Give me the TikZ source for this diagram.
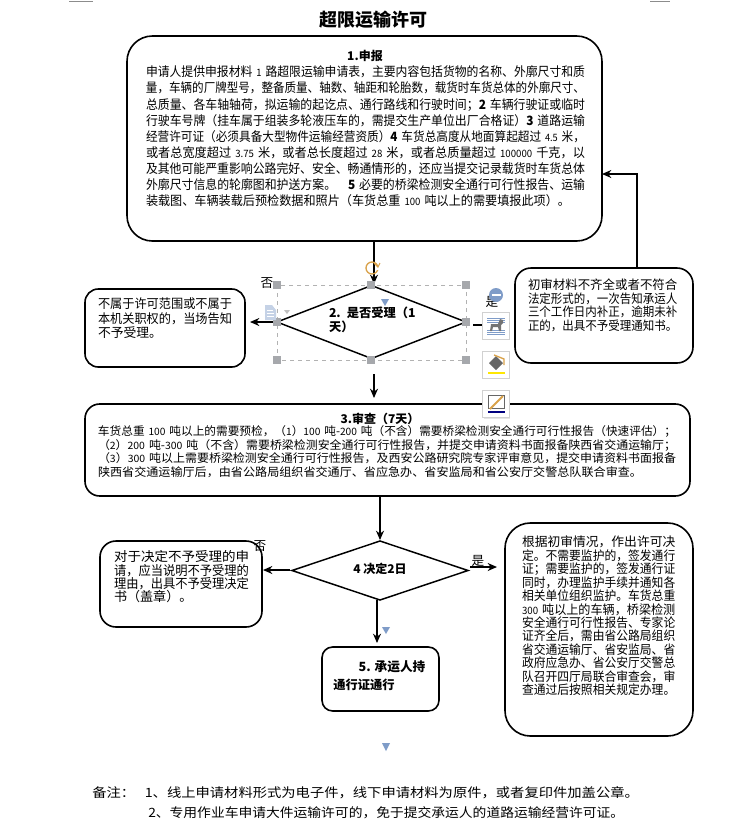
\documentclass[tikz,border=0pt]{standalone}
\usepackage{fontspec}
\usepackage{graphicx}
\setmainfont{Noto Sans CJK SC}
\usetikzlibrary{arrows.meta,shapes.geometric}
\newcommand\jl[2]{\hbox{\resizebox{#1}{\height}{#2}}}
\newcommand\dg[1]{{\fontsize{7.6}{7.6}\selectfont #1}}
\newcommand\fs[2]{\fontsize{#1}{#2}\selectfont}
\definecolor{tri}{HTML}{7F9CC8}
\definecolor{handlegrey}{HTML}{A6A8AC}
\definecolor{rot}{HTML}{D9A24A}
\tikzset{
  x=0.75pt,y=-0.75pt,
  rbox/.style={draw=black,line width=1.2pt,fill=white,inner sep=0pt,outer sep=0pt},
  decision/.style={draw=black,line width=1.1pt,diamond,aspect=2.2,fill=white,inner sep=0pt,outer sep=0pt},
  txt/.style={inner sep=0pt,outer sep=0pt,anchor=north west,align=left},
  bt/.style={inner sep=0pt,outer sep=0pt,font=\bfseries\fs{9}{11}},
  flow/.style={draw=black,line width=1.1pt,-{Stealth[length=7pt,width=6pt]}},
  plain/.style={draw=black,line width=1.1pt},
  handle/.style={fill=handlegrey,draw=none,minimum size=6pt,inner sep=0pt,outer sep=0pt},
  toolbtn/.style={draw=black!18,fill=white,minimum width=20pt,minimum height=20pt,inner sep=0pt,outer sep=0pt},
  toolshadow/.style={fill=black!10,draw=none,minimum width=20pt,minimum height=20pt,inner sep=0pt,outer sep=0pt},
}
\begin{document}
\begin{tikzpicture}
\useasboundingbox (0,0) rectangle (732,840);
\fill[white] (0,0) rectangle (732,840);

% title
\node[inner sep=0pt,font=\bfseries\fs{13.5}{16}] (title) at (373,20) {超限运输许可};

% box 1
\node[rbox,rounded corners=19pt,minimum width=475*0.75pt,minimum height=205*0.75pt] (b1) at (364.5,138.5) {};
\node[bt] (t1h) at (365,56) {1.申报};
\node[txt,text width=329.25pt,font=\fs{9.6}{12.07}] (t1) at (146,66) {%
\jl{329.25pt}{申请人提供申报材料 \dg{1} 路超限运输申请表，主要内容包括货物的名称、外廓尺寸和质}
\jl{329.25pt}{量，车辆的厂牌型号，整备质量、轴数、轴距和轮胎数，载货时车货总体的外廓尺寸、}
\jl{329.25pt}{总质量、各车轴轴荷，拟运输的起讫点、通行路线和行驶时间；\textbf{2} 车辆行驶证或临时}
\jl{329.25pt}{行驶车号牌（挂车属于组装多轮液压车的，需提交生产单位出厂合格证）\textbf{3} 道路运输}
\jl{329.25pt}{经营许可证（必须具备大型物件运输经营资质）\textbf{4} 车货总高度从地面算起超过 \dg{4.5} 米，}
\jl{329.25pt}{或者总宽度超过 \dg{3.75} 米，或者总长度超过 \dg{28} 米，或者总质量超过 \dg{100000} 千克，以}
\jl{329.25pt}{及其他可能严重影响公路完好、安全、畅通情形的，还应当提交记录载货时车货总体}
\jl{329.25pt}{外廓尺寸信息的轮廓图和护送方案。\ \ \ \textbf{5} 必要的桥梁检测安全通行可行性报告、运输}
\jl{318pt}{装载图、车辆装载后预检数据和照片（车货总重 \dg{100} 吨以上的需要填报此项）。}};

% decision 1 selection frame
\draw[black!30,dashed,line width=0.4pt] (277,285) rectangle (466,360);

% box not in scope
\node[rbox,rounded corners=10pt,minimum width=160*0.75pt,minimum height=78*0.75pt] (b2) at (165,328) {};
\node[txt,text width=100.5pt,font=\fs{9.6}{10.9}] (t2) at (98,298) {%
\jl{100.5pt}{不属于许可范围或不属于}
\jl{100.5pt}{本机关职权的，当场告知}
\hbox{不予受理。}};

% box supplement
\node[rbox,rounded corners=12pt,minimum width=178*0.75pt,minimum height=95*0.75pt] (b3) at (604,315.5) {};
\node[txt,text width=112pt,font=\fs{9.4}{10.2}] (t3) at (528,279) {%
\jl{112pt}{初审材料不齐全或者不符合}
\jl{112pt}{法定形式的，一次告知承运人}
\jl{112pt}{三个工作日内补正，逾期未补}
\jl{112pt}{正的，出具不予受理通知书。}};

% decision 1
\node[decision,minimum width=189*0.75pt,minimum height=73*0.75pt] (d1) at (371.5,322) {};
\node[txt,font=\bfseries\fs{9.2}{10.4},text width=100pt] (d1t) at (329,307) {2. 是否受理（1\\天）};

% box review
\node[rbox,rounded corners=11pt,minimum width=605*0.75pt,minimum height=92*0.75pt] (b4) at (387.5,450) {};
\node[bt] (t4h) at (380,419) {3.审查（7天）};
\node[txt,text width=433.5pt,font=\fs{8.7}{10.05}] (t4) at (98,426) {%
\jl{433.5pt}{车货总重 \dg{100} 吨以上的需要预检，（\dg{1}）\dg{100} 吨-\dg{200} 吨（不含）需要桥梁检测安全通行可行性报告（快速评估）；}
\jl{433.5pt}{（\dg{2}）\dg{200} 吨-\dg{300} 吨（不含）需要桥梁检测安全通行可行性报告，并提交申请资料书面报备陕西省交通运输厅；}
\jl{433.5pt}{（\dg{3}）\dg{300} 吨以上需要桥梁检测安全通行可行性报告，及西安公路研究院专家评审意见，提交申请资料书面报备}
\jl{408pt}{陕西省交通运输厅后，由省公路局组织省交通厅、省应急办、省安监局和省公安厅交警总队联合审查。}};

% decision 2
\node[decision,minimum width=176*0.75pt,minimum height=59*0.75pt] (d2) at (380,570.5) {};
\node[bt] (d2t) at (380,569) {4 决定2日};

% box refuse
\node[rbox,rounded corners=12pt,minimum width=162*0.75pt,minimum height=86*0.75pt] (b5) at (181,584) {};
\node[txt,text width=101.25pt,font=\fs{9.8}{10.1}] (t5) at (114,550.5) {%
\jl{101.25pt}{对于决定不予受理的申}
\jl{101.25pt}{请，应当说明不予受理的}
\jl{101.25pt}{理由，出具不予受理决定}
\hbox{书（盖章）。}};

% box grant
\node[rbox,rounded corners=19pt,minimum width=188*0.75pt,minimum height=213*0.75pt] (b6) at (599,629.5) {};
\node[txt,text width=115pt,font=\fs{9.5}{10.09}] (t6) at (522,536) {%
\jl{115pt}{根据初审情况，作出许可决}
\jl{115pt}{定。不需要监护的，签发通行}
\jl{115pt}{证；需要监护的，签发通行证}
\jl{115pt}{同时，办理监护手续并通知各}
\jl{115pt}{相关单位组织监护。车货总重}
\jl{115pt}{\dg{300} 吨以上的车辆，桥梁检测}
\jl{115pt}{安全通行可行性报告、专家论}
\jl{115pt}{证齐全后，需由省公路局组织}
\jl{115pt}{省交通运输厅、省安监局、省}
\jl{115pt}{政府应急办、省公安厅交警总}
\jl{115pt}{队召开四厅局联合审查会，审}
\jl{115pt}{查通过后按照相关规定办理。}};

% box pass
\node[rbox,rounded corners=8pt,minimum width=117*0.75pt,minimum height=64*0.75pt] (b7) at (380.5,679) {};
\node[bt,font=\bfseries\fs{9.5}{11}] (t7a) at (392,667) {5. 承运人持};
\node[bt,font=\bfseries\fs{9.2}{11}] (t7b) at (364,685) {通行证通行};

% labels
\node[inner sep=0pt,font=\fs{9.5}{11}] (no1) at (267,283) {否};
\node[inner sep=0pt,font=\fs{9.5}{11}] (yes1) at (492,302) {是};
\node[inner sep=0pt,font=\fs{9.5}{11}] (no2) at (260,546) {否};
\node[inner sep=0pt,font=\fs{9.5}{11}] (yes2) at (478,561) {是};

% connectors
\coordinate (j1) at (637,174);
\coordinate (j1b) at (637,268);
\coordinate (a1s) at (374,241);
\coordinate (a1e) at (374,284);
\coordinate (a2s) at (374,374);
\coordinate (a2e) at (374,398);
\coordinate (a3s) at (380,496);
\coordinate (a3e) at (380,540);
\coordinate (a4s) at (377,600);
\coordinate (a4e) at (377,643);
\coordinate (a5s) at (290,570);
\coordinate (a5e) at (263,570);
\coordinate (a6s) at (470,567);
\coordinate (a6e) at (497,567);
\coordinate (a7s) at (277,322);
\coordinate (a7e) at (250,322);
\draw[flow] (j1b) -- (j1) -- (b1.east |- j1);
\draw[flow] (a1s) -- (a1e);
\draw[flow] (a2s) -- (a2e);
\draw[flow] (a3s) -- (a3e);
\draw[flow] (a4s) -- (a4e);
\draw[flow] (a5s) -- (a5e);
\draw[flow] (a6s) -- (a6e);
\draw[flow] (a7s) -- (a7e);

% selection handles
\foreach \n/\hx/\hy in {h1/277/285,h2/371/285,h3/466/285,h4/277/322,h5/466/322,h6/277/360,h7/371/360,h8/466/360}
  \node[handle] (\n) at (\hx,\hy) {};

% toolbar
\draw[plain] (h5.east |- 0,325) -- (483,325);
\fill[white] (466,322) ++(4,-4) rectangle ++(3,8);
\node[toolshadow] at (497,327) {};
\node[toolshadow] at (497,366) {};
\node[toolshadow] at (497,405.5) {};
\node[toolbtn] (tb1) at (496,326) {};
\node[toolbtn] (tb2) at (496,365) {};
\node[toolbtn] (tb3) at (496,404) {};
% button icons
\draw[tri,line width=0.5pt] (487,318) -- (505,318) (487,320) -- (505,320) (487,322) -- (505,322) (487,330) -- (505,330) (487,332) -- (505,332) (487,334) -- (505,334);
\fill[black!55] (490,331) -- (491,324) -- (498,324) -- (500,319) -- (503,320) -- (503,323) -- (501,325) -- (501,331) -- (499,331) -- (498,327) -- (493,327) -- (492,331) -- cycle;
\fill[black!60] (489,363) -- (496,356) -- (503,363) -- (496,370) -- cycle;
\draw[rot,line width=1pt] (494,355) -- (504,359) -- (504,365);
\draw[yellow!90!orange,line width=1.2pt] (488,373) -- (505,373);
\draw[black!60,line width=0.6pt] (488,395) rectangle (504,408);
\draw[rot,line width=1.4pt] (490,409) -- (503,396);
\draw[blue!50!black,line width=1.4pt] (488,412) -- (505,412);

% rotate handle
\draw[rot,line width=1pt] (372,268) circle[radius=6];
\fill[white] (376,266) rectangle (380,270);
\draw[rot,line width=0.8pt] (374,263) -- (378,267) -- (380,263);
% minus badge
\node[circle,fill=tri,minimum size=10.5pt,inner sep=0pt] (minus) at (496,295) {};
\draw[white,line width=1pt] (491.5,295) -- (500.5,295);
% document icon
\fill[tri!45] (265,305) -- (272,305) -- (276,310) -- (276,320) -- (265,320) -- cycle;
\draw[white,line width=0.5pt] (267,310) -- (273,310) (267,313) -- (274,313) (267,316) -- (274,316);
\fill[black!25] (284,310) -- (290,310) -- (287,314) -- cycle;
% triangles
\fill[tri] (381,299) -- (389,299) -- (385,306) -- cycle;
\fill[tri] (382,627) -- (390,627) -- (386,634) -- cycle;
\fill[tri] (382,743) -- (390,743) -- (386,751) -- cycle;

% top edge remnants
\draw[black!45,line width=0.6pt] (69,1) -- (93,1);
\draw[black!45,line width=0.6pt] (650,1.5) -- (670,1.5);

% footer
\node[inner sep=0pt,anchor=west,font=\fs{9.6}{12}] (f1) at (92,793) {\jl{410pt}{备注：\ \ \ 1、线上申请材料形式为电子件，线下申请材料为原件，或者复印件加盖公章。}};
\node[inner sep=0pt,anchor=west,font=\fs{9.6}{12}] (f2) at (148,813) {\jl{357pt}{2、专用作业车申请大件运输许可的，免于提交承运人的道路运输经营许可证。}};
\end{tikzpicture}
\end{document}
